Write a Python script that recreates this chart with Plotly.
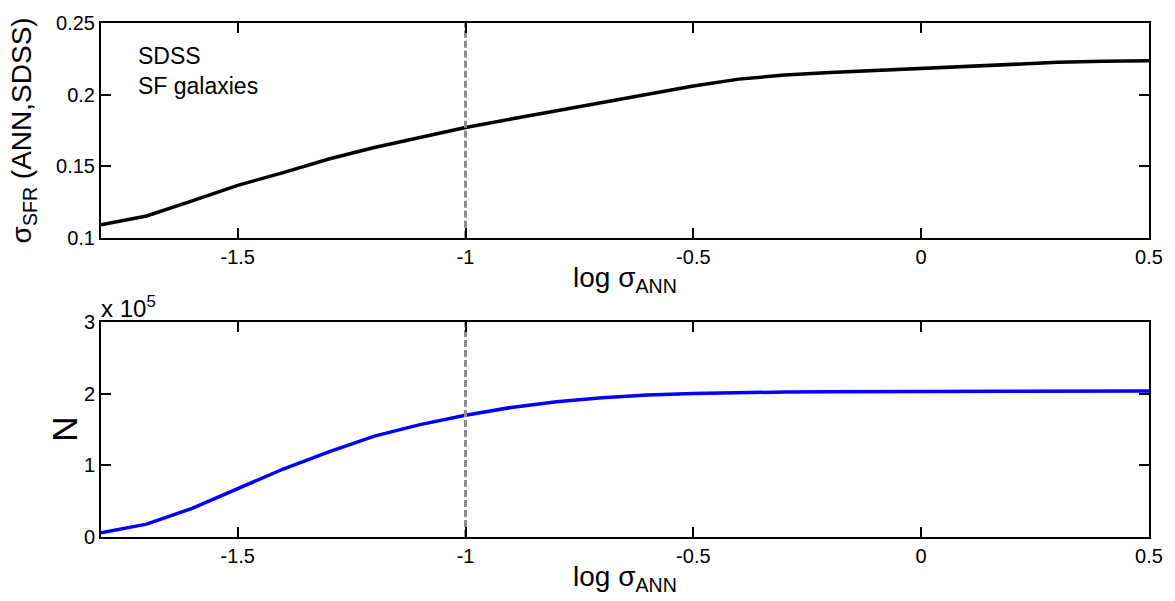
import plotly.graph_objects as go

# log sigma_ANN bin centres
log_sigma_ann = [-1.8, -1.7, -1.6, -1.5, -1.4, -1.3, -1.2, -1.1, -1.0, -0.9, -0.8, -0.7,
                 -0.6, -0.5, -0.4, -0.3, -0.2, -0.1, 0.0, 0.1, 0.2, 0.3, 0.4, 0.5]

# scatter of SFR between ANN and SDSS, per bin
sigma_sfr = [0.109, 0.1152, 0.1258, 0.1366, 0.1455, 0.155, 0.163, 0.1702, 0.177, 0.1829,
             0.1887, 0.1944, 0.2002, 0.206, 0.2108, 0.2136, 0.2155, 0.2169, 0.2184, 0.2199,
             0.2213, 0.2225, 0.2232, 0.2237]

# cumulative number of galaxies below each threshold
n_galaxies = [6000, 18000, 40000, 67000, 95000, 119000, 141000, 157000, 170000, 181000,
              189000, 194500, 198500, 200500, 202000, 202500, 203000, 203200, 203400,
              203600, 203700, 203800, 203900, 204000]

threshold = -1.0

x_ticks = [-1.5, -1.0, -0.5, 0.0, 0.5]
x_tick_labels = ["-1.5", "-1", "-0.5", "0", "0.5"]
top_y_ticks = [0.1, 0.15, 0.2, 0.25]
top_y_tick_labels = ["0.1", "0.15", "0.2", "0.25"]
bot_y_ticks = [0, 100000, 200000, 300000]
bot_y_tick_labels = ["0", "1", "2", "3"]

FONT = "Liberation Sans, Arial, Helvetica, sans-serif"
TICK_SIZE = 20
TITLE_SIZE = 28

TOP_DOMAIN = [0.5822, 1]
BOT_DOMAIN = [0, 0.4178]

fig = go.Figure()

fig.add_trace(go.Scatter(x=log_sigma_ann, y=sigma_sfr, mode="lines",
                         line=dict(color="black", width=3.5),
                         xaxis="x", yaxis="y", showlegend=False))
fig.add_trace(go.Scatter(x=log_sigma_ann, y=n_galaxies, mode="lines",
                         line=dict(color="#0000ff", width=3.5),
                         xaxis="x2", yaxis="y2", showlegend=False))

# dashed threshold marker in both panels
dash_line = dict(color="#8c8c8c", width=3, dash="7px,3px")
fig.add_trace(go.Scatter(x=[threshold, threshold], y=[top_y_ticks[0], top_y_ticks[-1]],
                         mode="lines", line=dash_line,
                         xaxis="x", yaxis="y", showlegend=False))
fig.add_trace(go.Scatter(x=[threshold, threshold], y=[bot_y_ticks[0], bot_y_ticks[-1]],
                         mode="lines", line=dash_line,
                         xaxis="x2", yaxis="y2", showlegend=False))

axis_common = dict(showline=True, linecolor="black", linewidth=2, mirror="ticks",
                   ticks="inside", ticklen=10, tickwidth=2, tickcolor="black",
                   showgrid=False, zeroline=False,
                   tickfont=dict(family=FONT, size=TICK_SIZE, color="black"))

title_font = dict(family=FONT, size=TITLE_SIZE, color="black")
x_title_text = "log σ<sub>ANN</sub>"

fig.update_layout(
    width=1175, height=601,
    margin=dict(l=101, r=19, t=20, b=64),
    paper_bgcolor="white", plot_bgcolor="white",
    xaxis=dict(domain=[0, 1], range=[-1.8, 0.5], anchor="y",
               tickvals=x_ticks, ticktext=x_tick_labels, **axis_common),
    yaxis=dict(domain=TOP_DOMAIN, range=[0.1, 0.25], anchor="x",
               tickvals=top_y_ticks, ticktext=top_y_tick_labels,
               title=dict(text="σ<sub>SFR</sub> (ANN,SDSS)", font=title_font, standoff=16),
               **axis_common),
    xaxis2=dict(domain=[0, 1], range=[-1.8, 0.5], anchor="y2",
                tickvals=x_ticks, ticktext=x_tick_labels, **axis_common),
    yaxis2=dict(domain=BOT_DOMAIN, range=[0, 300000], anchor="x2",
                tickvals=bot_y_ticks, ticktext=bot_y_tick_labels, **axis_common),
    annotations=[
        # x-axis titles
        dict(text=x_title_text, xref="paper", yref="paper", x=0.5, y=TOP_DOMAIN[0],
             xanchor="center", yanchor="top", yshift=-22, showarrow=False, font=title_font),
        dict(text=x_title_text, xref="paper", yref="paper", x=0.5, y=BOT_DOMAIN[0],
             xanchor="center", yanchor="top", yshift=-22, showarrow=False, font=title_font),
        # lower panel y-axis title
        dict(text="N", xref="paper", yref="paper", x=0, xshift=-36,
             y=(BOT_DOMAIN[0] + BOT_DOMAIN[1]) / 2, xanchor="center", yanchor="middle",
             textangle=-90, showarrow=False, font=dict(family=FONT, size=35, color="black")),
        # panel label
        dict(text="SDSS<br>SF galaxies", xref="paper", yref="paper", x=0.033, y=0.965,
             xanchor="left", yanchor="top", align="left", showarrow=False,
             font=dict(family=FONT, size=23, color="black")),
        # exponent of the lower y-axis
        dict(text="x 10<sup>5</sup>", xref="paper", yref="paper", x=0.0, y=BOT_DOMAIN[1],
             xanchor="left", yanchor="bottom", showarrow=False, yshift=-2, xshift=-2,
             font=dict(family=FONT, size=24, color="black")),
    ],
)

fig.write_html("out.html")
